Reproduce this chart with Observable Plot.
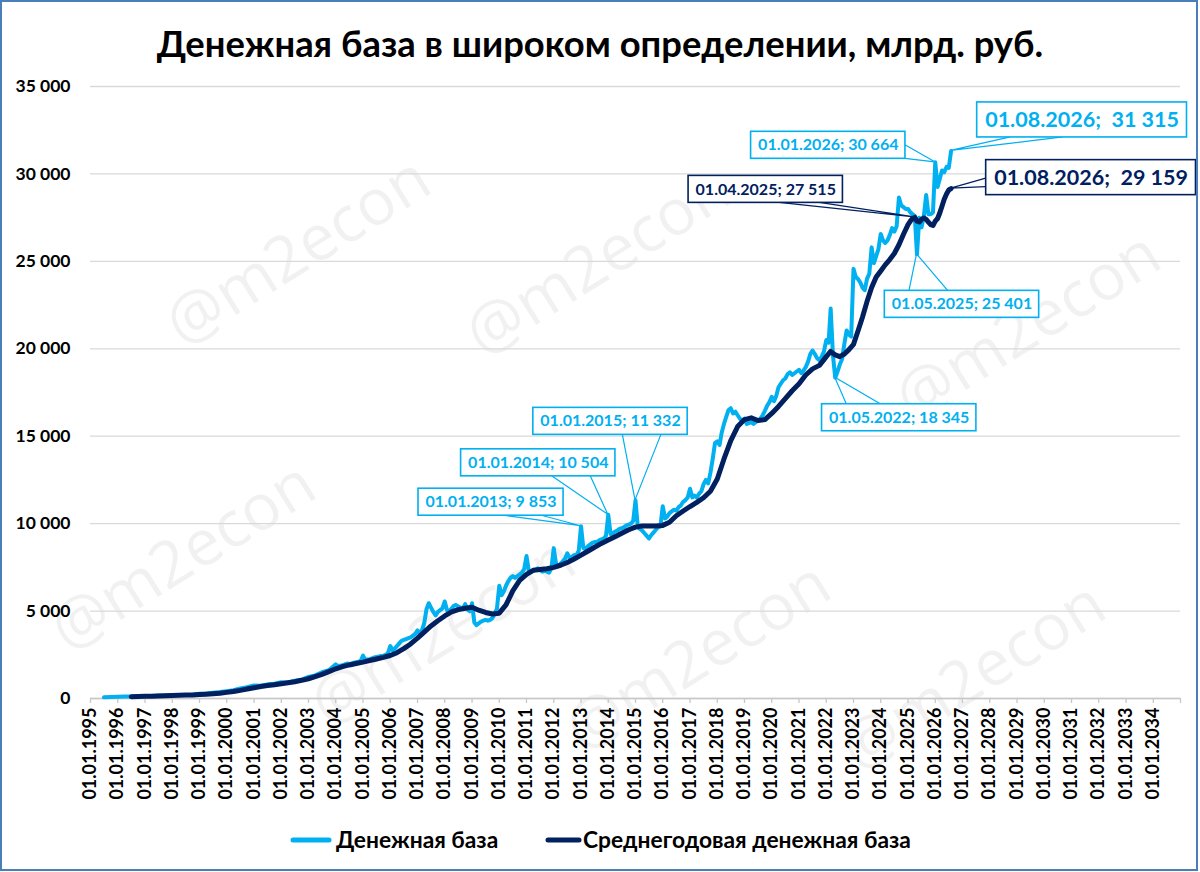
<!DOCTYPE html>
<html><head><meta charset="utf-8">
<script src="https://cdn.jsdelivr.net/npm/d3@7"></script>
<script src="https://cdn.jsdelivr.net/npm/@observablehq/plot@0.6"></script>
<style>
html,body{margin:0;padding:0;background:#fff;}
#frame{position:relative;width:1200px;height:872px;overflow:hidden;background:#fff;}
#wm{position:absolute;left:0;top:0;z-index:0;}
#chart{position:absolute;left:0;top:70px;z-index:1;}
#deco{position:absolute;left:0;top:0;z-index:2;pointer-events:none;}
#border{position:absolute;left:0;top:0;width:1198px;height:871px;box-sizing:border-box;border:2px solid #4a7ebb;z-index:3;pointer-events:none;}
</style></head>
<body>
<div id="frame">
  <svg id="wm" width="1200" height="872"></svg>
  <div id="chart"></div>
  <svg id="deco" width="1200" height="872"></svg>
  <div id="border"></div>
</div>
<script>
// ---------- DATA ----------
const baseDates = [
"1995-07","1995-10",
"1996-01","1996-04","1996-07","1996-10",
"1997-01","1997-04","1997-07","1997-10",
"1998-01","1998-04","1998-07","1998-10",
"1999-01","1999-04","1999-07","1999-10",
"2000-01","2000-04","2000-07","2000-10",
"2001-01","2001-04","2001-07","2001-10",
"2002-01","2002-04","2002-07","2002-10",
"2003-01","2003-04","2003-07","2003-10",
"2004-01","2004-02","2004-03","2004-04","2004-05","2004-06","2004-07","2004-08","2004-09","2004-10","2004-11","2004-12",
"2005-01","2005-02","2005-03","2005-04","2005-05","2005-06","2005-07","2005-08","2005-09","2005-10","2005-11","2005-12",
"2006-01","2006-02","2006-03","2006-04","2006-05","2006-06","2006-07","2006-08","2006-09","2006-10","2006-11","2006-12",
"2007-01","2007-02","2007-03","2007-04","2007-05","2007-06","2007-07","2007-08","2007-09","2007-10","2007-11","2007-12",
"2008-01","2008-02","2008-03","2008-04","2008-05","2008-06","2008-07","2008-08","2008-09","2008-10","2008-11","2008-12",
"2009-01","2009-02","2009-03","2009-04","2009-05","2009-06","2009-07","2009-08","2009-09","2009-10","2009-11","2009-12",
"2010-01","2010-02","2010-03","2010-04","2010-05","2010-06","2010-07","2010-08","2010-09","2010-10","2010-11","2010-12",
"2011-01","2011-02","2011-03","2011-04","2011-05","2011-06","2011-07","2011-08","2011-09","2011-10","2011-11","2011-12",
"2012-01","2012-02","2012-03","2012-04","2012-05","2012-06","2012-07","2012-08","2012-09","2012-10","2012-11","2012-12",
"2013-01","2013-02","2013-03","2013-04","2013-05","2013-06","2013-07","2013-08","2013-09","2013-10","2013-11","2013-12",
"2014-01","2014-02","2014-03","2014-04","2014-05","2014-06","2014-07","2014-08","2014-09","2014-10","2014-11","2014-12",
"2015-01","2015-02","2015-03","2015-04","2015-05","2015-06","2015-07","2015-08","2015-09","2015-10","2015-11","2015-12",
"2016-01","2016-02","2016-03","2016-04","2016-05","2016-06","2016-07","2016-08","2016-09","2016-10","2016-11","2016-12",
"2017-01","2017-02","2017-03","2017-04","2017-05","2017-06","2017-07","2017-08","2017-09","2017-10","2017-11","2017-12",
"2018-01","2018-02","2018-03","2018-04","2018-05","2018-06","2018-07","2018-08","2018-09","2018-10","2018-11","2018-12",
"2019-01","2019-02","2019-03","2019-04","2019-05","2019-06","2019-07","2019-08","2019-09","2019-10","2019-11","2019-12",
"2020-01","2020-02","2020-03","2020-04","2020-05","2020-06","2020-07","2020-08","2020-09","2020-10","2020-11","2020-12",
"2021-01","2021-02","2021-03","2021-04","2021-05","2021-06","2021-07","2021-08","2021-09","2021-10","2021-11","2021-12",
"2022-01","2022-02","2022-03","2022-04","2022-05","2022-06","2022-07","2022-08","2022-09","2022-10","2022-11","2022-12",
"2023-01","2023-02","2023-03","2023-04","2023-05","2023-06","2023-07","2023-08","2023-09","2023-10","2023-11","2023-12",
"2024-01","2024-02","2024-03","2024-04","2024-05","2024-06","2024-07","2024-08","2024-09","2024-10","2024-11","2024-12",
"2025-01","2025-02","2025-03","2025-04","2025-05","2025-06","2025-07","2025-08","2025-09","2025-10","2025-11","2025-12",
"2026-01","2026-02","2026-03","2026-04","2026-05","2026-06","2026-07","2026-08"
];
const baseValues = [
70,90,
105,110,118,125,
150,150,165,175,
205,195,200,215,
270,290,330,370,
420,470,570,650,
745,730,810,840,
930,920,1020,1080,
1230,1320,1500,1620,
1950,1850,1880,1900,1950,2000,1980,2000,2050,2080,2100,2150,
2450,2200,2230,2250,2300,2350,2380,2400,2430,2450,2500,2600,
3000,2750,2850,3000,3150,3300,3350,3400,3450,3500,3600,3700,
3900,3700,3900,4300,5100,5450,5200,4950,4750,4950,5050,5150,
5550,5050,5000,5150,5300,5350,5250,5200,5150,5400,5100,5000,
5450,4350,4200,4300,4400,4450,4500,4450,4500,4600,4850,5150,
6450,5900,6100,6450,6700,6900,7000,6900,7000,7100,7200,7400,
8150,7300,7250,7300,7350,7450,7350,7250,7300,7250,7200,7450,
8600,7700,7600,7700,7850,8000,8300,8050,8100,8200,8200,8450,
9853,8600,8550,8700,8800,8900,8950,8950,9050,9100,9150,9300,
10504,9400,9450,9550,9600,9700,9750,9800,9900,9950,10000,10150,
11332,9800,9700,9600,9450,9300,9150,9350,9500,9650,9800,9850,
11000,10300,10400,10600,10700,10800,10750,10950,11050,11250,11350,11500,
12000,11500,11600,11500,11700,11850,12250,12500,12300,12900,13700,14600,
14700,14500,15200,15700,16100,16500,16600,16300,16400,16200,16000,15900,
16000,15700,15750,15800,15700,15800,15900,16000,16200,16450,16750,16950,
17250,17000,17300,17800,18000,18200,18300,18550,18650,18500,18600,18700,
18800,18600,18750,18950,19250,19700,19900,19700,19450,19350,19550,19850,
20500,20350,22300,19600,18345,18700,19100,19400,20300,21050,20800,20700,
24570,24100,24000,23800,23500,23350,24000,24300,25800,24900,25300,25700,
26570,26200,26050,26200,26500,26900,26700,27000,28650,28200,28100,28000,
28000,27800,27700,27600,25401,27500,26950,27600,28800,27700,27700,27800,
30664,29250,29700,30200,30100,30400,30350,31315
];
const avgDates = [
"1996-07","1996-10",
"1997-01","1997-04","1997-07","1997-10",
"1998-01","1998-04","1998-07","1998-10",
"1999-01","1999-04","1999-07","1999-10",
"2000-01","2000-04","2000-07","2000-10",
"2001-01","2001-04","2001-07","2001-10",
"2002-01","2002-04","2002-07","2002-10",
"2003-01","2003-04","2003-07","2003-10",
"2004-01","2004-04","2004-07","2004-10",
"2005-01","2005-04","2005-07","2005-10",
"2006-01","2006-04","2006-07","2006-10",
"2007-01","2007-04","2007-07","2007-10",
"2008-01","2008-04","2008-07","2008-10",
"2009-01","2009-04","2009-07","2009-10",
"2010-01","2010-04","2010-07","2010-10",
"2011-01","2011-04","2011-07","2011-10",
"2012-01","2012-04","2012-07","2012-10",
"2013-01","2013-04","2013-07","2013-10",
"2014-01","2014-04","2014-07","2014-10",
"2015-01","2015-04","2015-07","2015-10",
"2016-01","2016-04","2016-07","2016-10",
"2017-01","2017-04","2017-07","2017-10",
"2018-01","2018-04","2018-07","2018-10",
"2019-01","2019-04","2019-07","2019-10",
"2020-01","2020-04","2020-07","2020-10",
"2021-01","2021-04","2021-07","2021-10",
"2022-01","2022-03","2022-05","2022-07","2022-09","2022-11",
"2023-01","2023-03","2023-05","2023-07","2023-09","2023-11",
"2024-01","2024-03","2024-05","2024-07","2024-09","2024-11",
"2025-01","2025-02","2025-03","2025-04","2025-05","2025-06","2025-07","2025-08","2025-09","2025-10","2025-11","2025-12",
"2026-01","2026-02","2026-03","2026-04","2026-05","2026-06","2026-07","2026-08"
];
const avgValues = [
100,110,
122,135,148,160,
175,186,195,205,
222,245,272,305,
350,400,465,540,
615,685,740,790,
845,900,960,1040,
1130,1250,1380,1540,
1700,1820,1920,2000,
2080,2170,2260,2350,
2460,2620,2850,3120,
3450,3800,4150,4450,
4720,4950,5080,5160,
5220,5050,4920,4830,
4880,5350,6150,6750,
7100,7330,7380,7420,
7500,7620,7780,7980,
8200,8420,8650,8870,
9060,9250,9450,9650,
9800,9860,9870,9870,
9900,10080,10450,10720,
10980,11220,11480,11850,
12550,13700,14750,15550,
15950,16050,15900,15950,
16300,16700,17150,17600,
18000,18500,18850,19050,
19550,19850,19650,19550,19700,19950,
20250,21000,21800,22700,23500,24100,
24450,24800,25100,25450,25950,26550,
27100,27300,27450,27515,27300,27250,27400,27480,27400,27250,27100,27050,
27300,27450,27750,28150,28550,28850,29080,29159
];
const seriesNames = ["Денежная база", "Среднегодовая денежная база"];
const yTicks = [0, 5000, 10000, 15000, 20000, 25000, 30000, 35000];
const tickYears = [1995,1996,1997,1998,1999,2000,2001,2002,2003,2004,2005,2006,2007,2008,2009,2010,2011,2012,2013,2014,2015,2016,2017,2018,2019,2020,2021,2022,2023,2024,2025,2026,2027,2028,2029,2030,2031,2032,2033,2034,2035];
const xTickLabels = tickYears.map(y => y < 2035 ? `01.01.${y}` : "");
const calloutDates = ["2013-01","2014-01","2015-01","2022-05","2025-04","2025-05","2026-01","2026-08","2026-08"];
const calloutValues = [9853, 10504, 11332, 18345, 27515, 25401, 30664, 31315, 29159];
const calloutSeries = [0,0,0,0,1,0,0,0,1];
const calloutTexts = [
"01.01.2013; 9\u00a0853","01.01.2014; 10\u00a0504","01.01.2015; 11\u00a0332","01.05.2022; 18\u00a0345",
"01.04.2025; 27\u00a0515","01.05.2025; 25\u00a0401","01.01.2026; 30\u00a0664",
"01.08.2026;\u00a0 31\u00a0315","01.08.2026;\u00a0 29\u00a0159"];
const chartTitle = "Денежная база в широком определении, млрд. руб.";
const watermarkText = "@m2econ";

// ---------- LAYOUT / STYLE ----------
const colors = ["#00B0F0", "#002060"];
const calloutLayout = [
 {dx:-90, dy:-24, big:false, side:"bottom", f:[0.59,0.85]},
 {dx:-70, dy:-52, big:false, side:"bottom", f:[0.59,0.84]},
 {dx:-25, dy:-79, big:false, side:"bottom", f:[0.58,0.83]},
 {dx:64, dy:40, big:false, side:"top", f:[0.16,0.38]},
 {dx:-149, dy:-28, big:false, side:"bottom", f:[0.59,0.85]},
 {dx:45, dy:50, big:false, side:"top", f:[0.16,0.41]},
 {dx:-107, dy:-17, big:false, side:"right", f:[0.5,1.0]},
 {dx:131, dy:-31, big:true, side:"bottom", f:[0.16,0.41]},
 {dx:140, dy:-11, big:true, side:"left", f:[0.53,0.77]}
];
const FONT = "Lato, 'Open Sans', 'Noto Sans', sans-serif";

const parseMonth = s => { const [y, m] = s.split("-").map(Number); return new Date(Date.UTC(y, m - 1, 1)); };
const base = baseDates.map((d, i) => ({date: parseMonth(d), value: baseValues[i]}));
const avg = avgDates.map((d, i) => ({date: parseMonth(d), value: avgValues[i]}));
const tickDates = tickYears.map(y => new Date(Date.UTC(y, 0, 1)));
const fmt = v => d3.format(",")(v).replace(/,/g, "\u00a0");

// ---------- WATERMARKS (background) ----------
const wmSpots = [[300,255],[600,265],[1030,330],[185,560],[445,635],[700,660],[975,680]];
const wm = d3.select("#wm");
wmSpots.forEach(([x, y]) => {
  wm.append("text").attr("transform", `translate(${x},${y}) rotate(-32)`).attr("text-anchor", "middle")
    .attr("dominant-baseline", "middle").attr("font-family", "'Open Sans', sans-serif").attr("font-size", 64)
    .attr("fill", "#000").attr("fill-opacity", 0.055).text(watermarkText);
});

// ---------- TITLE & LEGEND ----------
const deco = d3.select("#deco");
deco.append("text").attr("x", 600).attr("y", 57).attr("text-anchor", "middle")
  .attr("font-family", FONT).attr("font-weight", "bold").attr("font-size", 36.4).attr("fill", "#000").text(chartTitle);
const legendItems = [{x1: 293, x2: 329, tx: 336}, {x1: 548, x2: 579, tx: 583}];
legendItems.forEach((it, i) => {
  deco.append("line").attr("x1", it.x1).attr("x2", it.x2).attr("y1", 840).attr("y2", 840)
    .attr("stroke", colors[i]).attr("stroke-width", 5).attr("stroke-linecap", "round");
  deco.append("text").attr("x", it.tx).attr("y", 848).attr("font-family", FONT).attr("font-weight", "bold")
    .attr("font-size", 22.8).attr("fill", "#000").text(seriesNames[i]);
});

// ---------- CHART ----------
const marks = [
  Plot.gridY(yTicks, {stroke: "#d9d9d9", strokeOpacity: 1, strokeWidth: 1.3}),
  Plot.axisY(yTicks, {tickSize: 0, tickPadding: 20, tickFormat: fmt, fontSize: 17.5, fontWeight: "bold", fill: "#000", label: null}),
  Plot.ruleY([0], {stroke: "#c8c8c8", strokeWidth: 1.3}),
  Plot.axisX(tickDates, {tickSize: 5, tickPadding: 4, tickRotate: -90,
    tickFormat: d => xTickLabels[tickYears.indexOf(d.getUTCFullYear())],
    fontSize: 18, fontWeight: "bold", fill: "#000", stroke: "#c8c8c8", strokeWidth: 1.3, label: null}),
  Plot.line(base, {x: "date", y: "value", stroke: colors[0], strokeWidth: 4, strokeLinejoin: "round", strokeLinecap: "round"}),
  Plot.line(avg, {x: "date", y: "value", stroke: colors[1], strokeWidth: 5, strokeLinejoin: "round", strokeLinecap: "round"})
];
calloutDates.forEach((d, i) => {
  const L = calloutLayout[i];
  marks.push(Plot.text([{date: parseMonth(d), value: calloutValues[i], text: calloutTexts[i], key: "ann-" + i}], {
    x: "date", y: "value", text: "text", dx: L.dx, dy: L.dy,
    fill: colors[calloutSeries[i]], fontSize: L.big ? 21.5 : 16, fontWeight: "bold",
    textAnchor: "middle", lineAnchor: "middle", ariaLabel: "key"
  }));
});

const plot = Plot.plot({
  width: 1200, height: 740,
  marginLeft: 90, marginRight: 20, marginTop: 16, marginBottom: 112,
  style: {fontFamily: FONT, background: "transparent", color: "#000", overflow: "visible"},
  x: {type: "utc", domain: [new Date(Date.UTC(1995, 0, 1)), new Date(Date.UTC(2035, 0, 1))]},
  y: {domain: [0, 35000]},
  marks
});
document.getElementById("chart").appendChild(plot);

// ---------- CALLOUT BOXES (through the plot's own scales) ----------
try {
  const sx = plot.scale("x"), sy = plot.scale("y");
  const fx = sx.apply ? d => sx.apply(d) : d3.scaleUtc(sx.domain, sx.range);
  const fy = sy.apply ? v => sy.apply(v) : d3.scaleLinear(sy.domain, sy.range);
  const annTexts = calloutDates.map((d, i) => {
    let t = plot.querySelector(`text[aria-label="ann-${i}"]`);
    if (!t) t = Array.from(plot.querySelectorAll("text")).find(e => e.textContent === calloutTexts[i]);
    return t;
  });
  let anchorG = annTexts[0];
  while (anchorG && anchorG.parentNode !== plot) anchorG = anchorG.parentNode;
  const boxLayer = document.createElementNS("http://www.w3.org/2000/svg", "g");
  plot.insertBefore(boxLayer, anchorG || null);
  const bl = d3.select(boxLayer);
  calloutDates.forEach((d, i) => {
    const L = calloutLayout[i];
    const px = fx(parseMonth(d)), py = fy(calloutValues[i]);
    const t = annTexts[i];
    const tw = t ? t.getComputedTextLength() : 140;
    const w = tw + (L.big ? 16 : 14), h = L.big ? 35 : 27;
    const x0 = px + L.dx - w / 2, y0 = py + L.dy - h / 2;
    let b1, b2;
    if (L.side === "bottom") { b1 = [x0 + L.f[0] * w, y0 + h]; b2 = [x0 + L.f[1] * w, y0 + h]; }
    else if (L.side === "top") { b1 = [x0 + L.f[0] * w, y0]; b2 = [x0 + L.f[1] * w, y0]; }
    else if (L.side === "left") { b1 = [x0, y0 + L.f[0] * h]; b2 = [x0, y0 + L.f[1] * h]; }
    else { b1 = [x0 + w, y0 + L.f[0] * h]; b2 = [x0 + w, y0 + L.f[1] * h]; }
    const c = colors[calloutSeries[i]];
    bl.append("polyline").attr("points", [b1, [px, py], b2].map(p => p.join(",")).join(" "))
      .attr("fill", "none").attr("stroke", c).attr("stroke-width", 1.2);
    bl.append("rect").attr("x", x0).attr("y", y0).attr("width", w).attr("height", h)
      .attr("fill", "#fff").attr("stroke", c).attr("stroke-width", 1.6);
  });
} catch (e) { console.error(e); }
</script>
</body></html>
